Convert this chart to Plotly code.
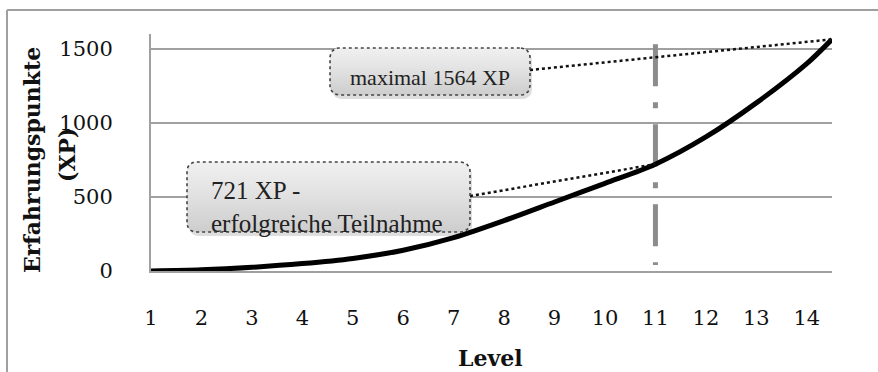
import numpy as np
import plotly.graph_objects as go

# ---- data ----
levels = [1, 2, 3, 4, 5, 6, 7, 8, 9, 10, 11, 12, 13, 14, 14.5]
xp = [0, 8, 25, 50, 85, 140, 225, 340, 466, 592, 721, 905, 1135, 1400, 1564]
x_ticks = list(range(1, 15))
y_ticks = [0, 500, 1000, 1500]
marker_level = 11
label_success = "721 XP -<br>erfolgreiche Teilnahme"
label_max = "maximal 1564 XP"

# pixel helpers (plot area: x 151..832, y 271..34)
L, R, T, B = 151, 832, 34, 271
X0, X1, Y0, Y1 = 1, 14.5, 0, 1600
def dx(px):
    return X0 + (px - L) / (R - L) * (X1 - X0)
def dy(py):
    return Y0 + (B - py) / (B - T) * (Y1 - Y0)
def px_x(px):
    return (px - L) / (R - L)
def px_y(py):
    return (B - py) / (B - T)

def rounded_box(px0, py0, px1, py1, r=9, n=8):
    xs, ys = [], []
    corners = [(px1 - r, py0 + r, -90, 0), (px1 - r, py1 - r, 0, 90),
               (px0 + r, py1 - r, 90, 180), (px0 + r, py0 + r, 180, 270)]
    for cx, cy, a0, a1 in corners:
        for a in np.linspace(np.radians(a0), np.radians(a1), n):
            xs.append(dx(cx + r * np.cos(a)))
            ys.append(dy(cy + r * np.sin(a)))
    xs.append(xs[0]); ys.append(ys[0])
    return xs, ys

fig = go.Figure()

# vertical dash-dot marker at level 11
fig.add_trace(go.Scatter(
    x=[marker_level, marker_level], y=[1530, 40], mode="lines",
    line=dict(color="#8c8c8c", width=5, dash="42px,16px,6px,16px"),
    hoverinfo="skip", showlegend=False))

# main curve
fig.add_trace(go.Scatter(
    x=levels, y=xp, mode="lines",
    line=dict(color="black", width=5, shape="spline", smoothing=0.8),
    hoverinfo="skip", showlegend=False))

# connectors (dotted)
i11 = levels.index(marker_level)
fig.add_trace(go.Scatter(
    x=[dx(470), levels[i11]], y=[dy(196), xp[i11]], mode="lines",
    line=dict(color="#111", width=2.5, dash="dot"),
    hoverinfo="skip", showlegend=False))
fig.add_trace(go.Scatter(
    x=[dx(530), levels[-1]], y=[dy(70), xp[-1]], mode="lines",
    line=dict(color="#111", width=2.5, dash="dot"),
    hoverinfo="skip", showlegend=False))

# callout boxes with shadow + gradient
for (bx0, by0, bx1, by1) in [(330, 48, 530, 95), (187, 162, 470, 232)]:
    sx, sy = rounded_box(bx0 + 2, by0 + 4, bx1 + 2, by1 + 4)
    fig.add_trace(go.Scatter(x=sx, y=sy, mode="lines", fill="toself",
                             fillcolor="rgba(0,0,0,0.13)", line=dict(width=0),
                             hoverinfo="skip", showlegend=False))
    bxs, bys = rounded_box(bx0, by0, bx1, by1)
    fig.add_trace(go.Scatter(
        x=bxs, y=bys, mode="lines", fill="toself",
        fillgradient=dict(type="vertical",
                          colorscale=[[0, "#cdcdcd"], [0.6, "#e4e4e4"], [1, "#f0f0f0"]]),
        line=dict(color="#444", width=1.6, dash="dot"),
        hoverinfo="skip", showlegend=False))

ann_common = dict(showarrow=False, xanchor="center", yanchor="middle")
fig.update_layout(
    width=878, height=372,
    margin=dict(l=L, r=878 - R, t=T, b=372 - B),
    paper_bgcolor="white", plot_bgcolor="white",
    font=dict(family="DejaVu Serif", color="#111"),
    xaxis=dict(range=[X0, X1], tickvals=x_ticks, ticktext=[str(v) for v in x_ticks],
               showgrid=False, zeroline=False, showline=True, linecolor="#a0a0a0",
               linewidth=2, ticks="", tickfont=dict(size=21, family="DejaVu Serif"),
               ticklabelstandoff=27),
    yaxis=dict(range=[Y0, Y1], tickvals=y_ticks, ticktext=[str(v) for v in y_ticks],
               showgrid=True, gridcolor="#a0a0a0", gridwidth=2, zeroline=False,
               showline=True, linecolor="#a0a0a0", linewidth=2, ticks="",
               tickfont=dict(size=21, family="DejaVu Serif"), ticklabelstandoff=32),
    shapes=[
        dict(type="line", xref="paper", yref="paper", x0=px_x(7), x1=px_x(878),
             y0=px_y(10), y1=px_y(10), line=dict(color="#a0a0a0", width=2)),
        dict(type="line", xref="paper", yref="paper", x0=px_x(7), x1=px_x(7),
             y0=px_y(10), y1=px_y(372), line=dict(color="#a0a0a0", width=2)),
    ],
    annotations=[
        dict(text=label_max, x=dx(430), y=dy(77), xref="x", yref="y", **ann_common,
             font=dict(family="Liberation Serif", size=22, color="#222")),
        dict(text=label_success, x=dx(209), y=dy(207), xref="x", yref="y",
             xanchor="left", yanchor="middle", align="left", showarrow=False,
             font=dict(family="Liberation Serif", size=25, color="#222")),
        dict(text="<b>Erfahrungspunkte</b>", x=px_x(32), y=px_y(160), xref="paper",
             yref="paper", textangle=-90, **ann_common,
             font=dict(family="DejaVu Serif", size=22, color="#111")),
        dict(text="<b>(XP)</b>", x=px_x(67), y=px_y(155), xref="paper",
             yref="paper", textangle=-90, **ann_common,
             font=dict(family="DejaVu Serif", size=22, color="#111")),
        dict(text="<b>Level</b>", x=px_x(490), y=px_y(358), xref="paper",
             yref="paper", **ann_common,
             font=dict(family="DejaVu Serif", size=22, color="#111")),
    ],
)

fig.write_html("out.html", config={"displayModeBar": False},
               post_script="document.body.style.margin='0px';")
